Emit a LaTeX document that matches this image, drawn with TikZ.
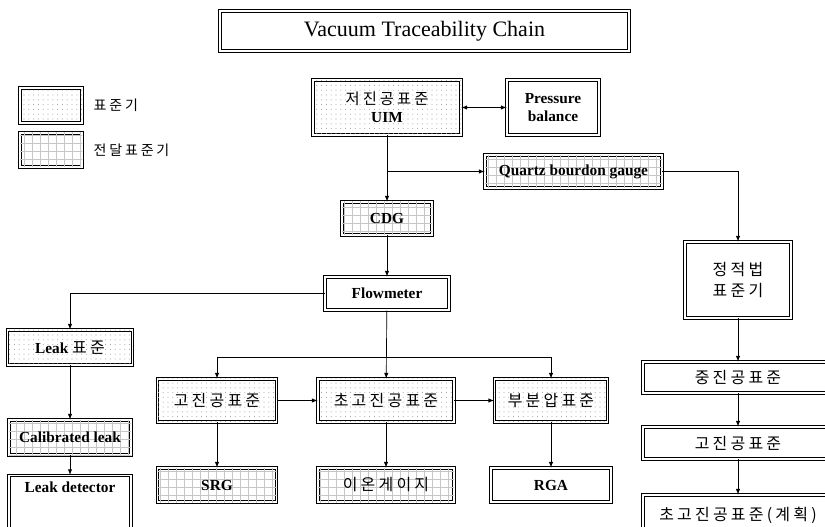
\documentclass[tikz,border=0pt]{standalone}
\usepackage{fontspec}
\setmainfont{Liberation Serif}
\newfontfamily\kr[LetterSpace=20]{Noto Sans CJK KR}
\usetikzlibrary{arrows,shadows,patterns,patterns.meta}

\begin{document}
\begin{tikzpicture}[x=0.75pt, y=-0.75pt,
      pfeil/.style={-latex, line width=0.5pt},
      plain/.style={draw, double, double distance=1.2pt, line width=0.6pt, fill=white, inner sep=2pt, align=center, font=\bfseries\fontsize{11.5}{13.5}\selectfont},
      std/.style={plain, drop shadow={shadow xshift=1.1pt, shadow yshift=-1.1pt, opacity=1, fill=black}, postaction={pattern={Dots[distance=3.6pt, radius=0.4pt]}, pattern color=gray!75}},
      transfer/.style={plain, drop shadow={shadow xshift=1.1pt, shadow yshift=-1.1pt, opacity=1, fill=black}, postaction={pattern={Hatch[distance=6pt, line width=0.25pt]}, pattern color=gray!45}},
      hangul/.style={font=\kr\fontsize{12}{16}\selectfont}]

\useasboundingbox (0,0) rectangle (825,527);

% title and legend
\node[plain, font=\fontsize{16.5}{18}\selectfont, minimum width=306.75pt, minimum height=30pt] (title) at (424.5,31) {Vacuum Traceability Chain};
\node[std, minimum width=46.5pt, minimum height=26.25pt] (legstd) at (51,105.5) {};
\node[transfer, minimum width=46.5pt, minimum height=25.5pt] (legtr) at (51,150) {};
\node[anchor=west, font=\kr\fontsize{10.5}{12}\selectfont] (legstdtext) at (89,105.5) {표준기};
\node[anchor=west, font=\kr\fontsize{10.5}{12}\selectfont] (legtrtext) at (89,150) {전달표준기};

% main chain
\node[std, minimum width=111pt, minimum height=41.25pt] (uim) at (387,107.5) {{\kr\mdseries\fontsize{11.5}{15}\selectfont 저진공표준}\\UIM};
\node[plain, minimum width=69pt, minimum height=41.25pt] (pb) at (553,107.5) {Pressure\\balance};
\node[transfer, minimum width=132.75pt, minimum height=24.75pt] (qbg) at (573.5,171.5) {Quartz bourdon gauge};
\node[transfer, minimum width=67.5pt, minimum height=24.75pt] (cdg) at (387,218.5) {CDG};
\node[plain, minimum width=93pt, minimum height=24.75pt] (flow) at (387,293.5) {Flowmeter};
\node[plain, hangul, minimum width=79.5pt, minimum height=57pt] (static) at (738,280) {정적법\\표준기};

% leak branch
\node[std, minimum width=93.75pt, minimum height=26.25pt] (leakstd) at (70,347.5) {Leak {\kr\mdseries\fontsize{12}{15}\selectfont 표준}};
\node[transfer, minimum width=91.5pt, minimum height=26.25pt] (calleak) at (70,437.5) {Calibrated leak};
\node[plain, anchor=north, minimum width=91.5pt, inner ysep=3pt, text height=10pt, text depth=38pt] (leakdet) at (70,475) {Leak detector};

% vacuum standards
\node[std, hangul, minimum width=89.25pt, minimum height=32.25pt] (hv) at (217,400.5) {고진공표준};
\node[std, hangul, minimum width=102pt, minimum height=32.25pt] (uhv) at (386,400.5) {초고진공표준};
\node[std, hangul, minimum width=84.75pt, minimum height=32.25pt] (pp) at (551,400.5) {부분압표준};
\node[transfer, minimum width=89.25pt, minimum height=25.5pt] (srg) at (217,485) {SRG};
\node[transfer, hangul, minimum width=102pt, minimum height=25.5pt] (ion) at (386,485) {이온게이지};
\node[plain, minimum width=90pt, minimum height=25.5pt] (rga) at (551,485) {RGA};

% static expansion branch
\node[plain, hangul, minimum width=142.5pt, minimum height=23.25pt] (mv) at (738,377.5) {중진공표준};
\node[plain, hangul, minimum width=142.5pt, minimum height=24pt] (hvr) at (738,443) {고진공표준};
\node[plain, hangul, minimum width=142.5pt, minimum height=30pt] (uhvp) at (738,515) {초고진공표준(계획)};

\coordinate (split) at (386,357);

\draw[pfeil, latex-latex] (uim) -- (pb);
\draw[pfeil] (uim) -- (cdg);
\draw[pfeil] (uim.south |- qbg.west) -- (qbg.west);
\draw[pfeil] (qbg.east) -| (static.north);
\draw[pfeil] (cdg) -- (flow);
\draw[pfeil] (flow.west) -| (leakstd.north);
\draw[pfeil] (flow) -- (uhv);
\draw[pfeil] (split) -| (hv.north);
\draw[pfeil] (split) -| (pp.north);
\draw[pfeil] (hv) -- (uhv);
\draw[pfeil] (uhv) -- (pp);
\draw[pfeil] (hv) -- (srg);
\draw[pfeil] (uhv) -- (ion);
\draw[pfeil] (pp) -- (rga);
\draw[pfeil] (leakstd) -- (calleak);
\draw[pfeil] (calleak) -- (leakdet);
\draw[pfeil] (static) -- (mv);
\draw[pfeil] (mv) -- (hvr);
\draw[pfeil] (hvr) -- (uhvp);

\end{tikzpicture}
\end{document}
